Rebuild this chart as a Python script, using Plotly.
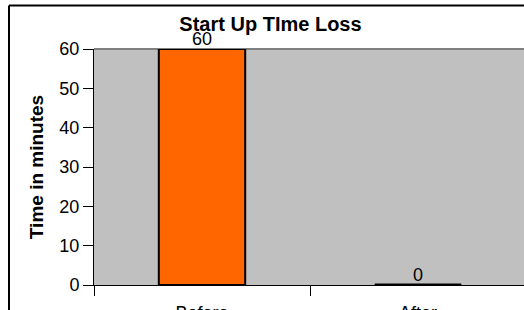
import plotly.graph_objects as go

categories = ["Before", "After"]
values = [60, 0]
y_ticks = [0, 10, 20, 30, 40, 50, 60]
title_text = "Start Up TIme Loss"
y_title = "Time in minutes"

W, H = 524, 310
L, R, T, B = 94, 0, 49, 25
PW, PH = W - L - R, H - T - B
CAT_PX = 216  # pixel width of one category slot

FONT = "Liberation Sans, Arial, sans-serif"
BAR_W = 0.4

fig = go.Figure()
fig.add_trace(go.Bar(
    x=categories, y=values, width=BAR_W,
    marker=dict(color="#FF6600", line=dict(color="black", width=2)),
    cliponaxis=False, showlegend=False, hoverinfo="skip",
))

# value labels
for c, v in zip(categories, values):
    fig.add_annotation(x=c, y=v, text=str(v), showarrow=False,
                       yanchor="bottom", xanchor="center", yshift=-2,
                       font=dict(family=FONT, size=18, color="black"))

# zero-height bars still show their outline in the reference
for i, v in enumerate(values):
    if v == 0:
        fig.add_shape(type="line", xref="x", yref="y",
                      x0=i - BAR_W / 2, x1=i + BAR_W / 2, y0=v, y1=v,
                      line=dict(color="black", width=3))

# plot-area top border (grey)
fig.add_shape(type="line", xref="paper", yref="paper", x0=0, x1=1, y0=1, y1=1,
              line=dict(color="#808080", width=2), layer="below")

# outer chart frame (partially cropped: only top and left edges visible)
fx0 = (9 - L) / PW
fy1 = (H - B - 5.5) / PH
fig.add_shape(type="line", xref="paper", yref="paper",
              x0=fx0, x1=1.05, y0=fy1, y1=fy1,
              line=dict(color="black", width=2))
fig.add_shape(type="line", xref="paper", yref="paper",
              x0=fx0, x1=fx0, y0=-0.2, y1=fy1,
              line=dict(color="black", width=2))

fig.update_layout(
    width=W, height=H,
    margin=dict(l=L, r=R, t=T, b=B, pad=0, autoexpand=False),
    paper_bgcolor="white", plot_bgcolor="#C0C0C0",
    bargap=0.6,
    font=dict(family=FONT, size=18, color="black"),
    title=dict(text="<b>" + title_text + "</b>", x=270.5 / W, xref="container",
               xanchor="center", y=1 - 23.5 / H, yref="container", yanchor="middle",
               font=dict(family=FONT, size=20, color="black")),
    xaxis=dict(type="category", range=[-0.5, -0.5 + PW / CAT_PX],
               tickson="boundaries", ticks="outside", ticklen=10, tickwidth=1,
               tickcolor="black", showline=True, linecolor="black", linewidth=1,
               showgrid=False, zeroline=False, ticklabelstandoff=11,
               automargin=False,
               tickfont=dict(family=FONT, size=18, color="black")),
    yaxis=dict(range=[0, 60], tickvals=y_ticks, ticks="outside", ticklen=10,
               tickwidth=1, tickcolor="black", showline=True, linecolor="black",
               linewidth=1, showgrid=False, zeroline=False, automargin=False,
               tickfont=dict(family=FONT, size=18, color="black"),
               title=dict(text="<b>" + y_title + "</b>", standoff=10,
                          font=dict(family=FONT, size=19, color="black"))),
)

fig.write_html(
    "out.html", config={"displayModeBar": False},
    post_script=(
        "var de=document.documentElement, bd=document.body;"
        "de.style.overflow='hidden'; de.style.scrollbarWidth='none';"
        "bd.style.margin='0'; bd.style.overflow='hidden'; bd.style.scrollbarWidth='none';"
        "var g=document.getElementById('{plot_id}');"
        "if(g){g.style.overflow='hidden'; g.style.height='310px';}"
    ),
)
